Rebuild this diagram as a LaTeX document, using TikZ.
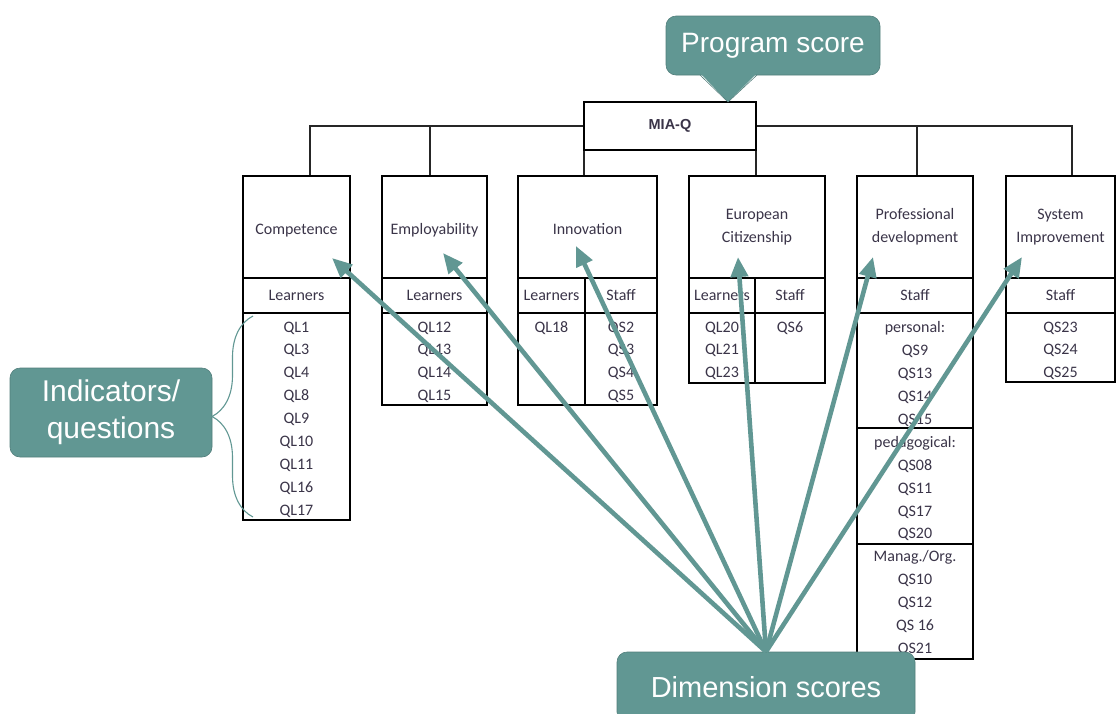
\documentclass[tikz,border=0pt]{standalone}
\usepackage{fontspec}
\setmainfont{Carlito}
\newfontfamily\calloutfont{Liberation Sans}
\usetikzlibrary{arrows.meta,decorations.pathreplacing}
\definecolor{scoreteal}{RGB}{97,151,147}
\definecolor{scoreedge}{RGB}{82,126,123}
\definecolor{celltext}{RGB}{58,52,72}
\tikzset{
  cell/.style={draw, line width=1.2pt, inner sep=0pt, align=center, text=celltext, font=\fontsize{16}{23}\selectfont},
  oneline/.style={text height=18pt, text depth=3pt},
  qlist/.style={anchor=north, inner sep=0pt, align=center, text=celltext, font=\fontsize{16}{22.9}\selectfont},
  frame/.style={line width=1.2pt},
  tree/.style={line width=1.3pt, draw=black!85},
  bubble/.style={fill=scoreteal, draw=scoreedge, line width=0.6pt, rounded corners=10pt, text=white, align=center},
  scorearrow/.style={draw=scoreteal, line width=4.6pt, -{Triangle[length=20pt,width=17pt]}},
  braceline/.style={draw=scoreteal, line width=1.1pt, decorate, decoration={brace, amplitude=41pt}},
}

\begin{document}
\begin{tikzpicture}[x=1pt, y=-1pt]
			%%%%% START %%%%%
			\useasboundingbox (0,0) rectangle (1117,713);
			
			% top of the tree
			\node[draw, line width=2.6pt, fill=white, minimum width=172, minimum height=48, font=\calloutfont\bfseries\fontsize{14.5}{14.5}\selectfont, text=celltext] (mia) at (670,126) {MIA-Q};
			\coordinate (d1) at (310,176);
			\coordinate (d2) at (430,176);
			\coordinate (d3) at (584,176);
			\coordinate (d4) at (756,176);
			\coordinate (d5) at (917,176);
			\coordinate (d6) at (1072,176);
			\draw[tree] (mia.west) -| (d1);
			\draw[tree] (mia.east) -| (d6);
			\draw[tree] (d2) -- (d2 |- mia.west);
			\draw[tree] (d5) -- (d5 |- mia.west);
			\draw[tree] (d3) -- (d3 |- mia.south);
			\draw[tree] (d4) -- (d4 |- mia.south);
			
			% Competence
			\node[cell, oneline, minimum width=107, minimum height=102] (comp) at (296.5,227) {Competence};
			\node[cell, minimum width=107, minimum height=35] (comp-l) at (296.5,295.5) {Learners};
			\draw[frame] (243,313) rectangle (350,520);
			\node[qlist] (comp-q) at (296.5,321.5) {QL1\\QL3\\QL4\\QL8\\QL9\\QL10\\QL11\\QL16\\QL17};
			
			% Employability
			\node[cell, oneline, minimum width=105, minimum height=102] (empl) at (434.5,227) {Employability};
			\node[cell, minimum width=105, minimum height=35] (empl-l) at (434.5,295.5) {Learners};
			\draw[frame] (382,313) rectangle (487,405);
			\node[qlist] (empl-q) at (434.5,321.5) {QL12\\QL13\\QL14\\QL15};
			
			% Innovation
			\node[cell, oneline, minimum width=139, minimum height=102] (inno) at (587.5,227) {Innovation};
			\node[cell, minimum width=67, minimum height=35] (inno-l) at (551.5,295.5) {Learners};
			\node[cell, minimum width=72, minimum height=35] (inno-s) at (621,295.5) {Staff};
			\draw[frame] (518,313) rectangle (657,405);
			\draw[frame] (585,313) -- (585,405);
			\node[qlist] (inno-ql) at (551.5,321.5) {QL18};
			\node[qlist] (inno-qs) at (621,321.5) {QS2\\QS3\\QS4\\QS5};
			
			% European Citizenship
			\node[cell, minimum width=136, minimum height=102] (euro) at (757,227) {European\\Citizenship};
			\node[cell, minimum width=66, minimum height=35] (euro-l) at (722,295.5) {Learners};
			\node[cell, minimum width=70, minimum height=35] (euro-s) at (790,295.5) {Staff};
			\draw[frame] (689,313) rectangle (825,383);
			\draw[frame] (755,313) -- (755,383);
			\node[qlist] (euro-ql) at (722,321.5) {QL20\\QL21\\QL23};
			\node[qlist] (euro-qs) at (790,321.5) {QS6};
			
			% Professional development
			\node[cell, minimum width=116, minimum height=102] (prof) at (915,227) {Professional\\development};
			\node[cell, minimum width=116, minimum height=35] (prof-s) at (915,295.5) {Staff};
			\draw[frame] (857,313) rectangle (973,659);
			\draw[frame] (857,428) -- (973,428);
			\draw[frame] (857,544) -- (973,544);
			\node[qlist] (prof-q) at (915,321.5) {personal:\\QS9\\QS13\\QS14\\QS15\\pedagogical:\\QS08\\QS11\\QS17\\QS20\\Manag./Org.\\QS10\\QS12\\QS 16\\QS21};
			
			% System Improvement
			\node[cell, minimum width=109, minimum height=102] (syst) at (1060.5,227) {System\\Improvement};
			\node[cell, minimum width=109, minimum height=35] (syst-s) at (1060.5,295.5) {Staff};
			\draw[frame] (1006,313) rectangle (1115,382);
			\node[qlist] (syst-q) at (1060.5,321.5) {QS23\\QS24\\QS25};
			
			% callouts
			\node[bubble, minimum width=214, minimum height=59, font=\calloutfont\fontsize{28}{28}\selectfont] (prog) at (773,45.5) {Program score};
			\coordinate (progtip) at (728,102);
			\fill[scoreteal] (700,73) -- (progtip) -- (757,73) -- cycle;
			\draw[scoreedge, line width=0.6pt] (700,75) -- (progtip) -- (757,75);
			
			\node[bubble, minimum width=202, minimum height=89, font=\calloutfont\fontsize{30}{37}\selectfont] (ind) at (111,412.5) {Indicators/\\questions};
			\coordinate (brtop) at (253,316);
			\coordinate (brbot) at (253,517);
			\draw[braceline] (brbot) -- (brtop);
			
			\node[bubble, minimum width=298, minimum height=70, font=\calloutfont\fontsize{29}{29}\selectfont] (dim) at (766,687) {Dimension scores};
			
			% arrows to the dimensions
			\coordinate (a-comp) at (332,258);
			\coordinate (a-empl) at (443,253);
			\coordinate (a-inno) at (576,246);
			\coordinate (a-euro) at (738,257);
			\coordinate (a-prof) at (873,257);
			\coordinate (a-syst) at (1022,257);
			\draw[scorearrow] (dim.north) -- (a-comp);
			\draw[scorearrow] (dim.north) -- (a-empl);
			\draw[scorearrow] (dim.north) -- (a-inno);
			\draw[scorearrow] (dim.north) -- (a-euro);
			\draw[scorearrow] (dim.north) -- (a-prof);
			\draw[scorearrow] (dim.north) -- (a-syst);
			
			%%%%% END %%%%%
\end{tikzpicture}
\end{document}
